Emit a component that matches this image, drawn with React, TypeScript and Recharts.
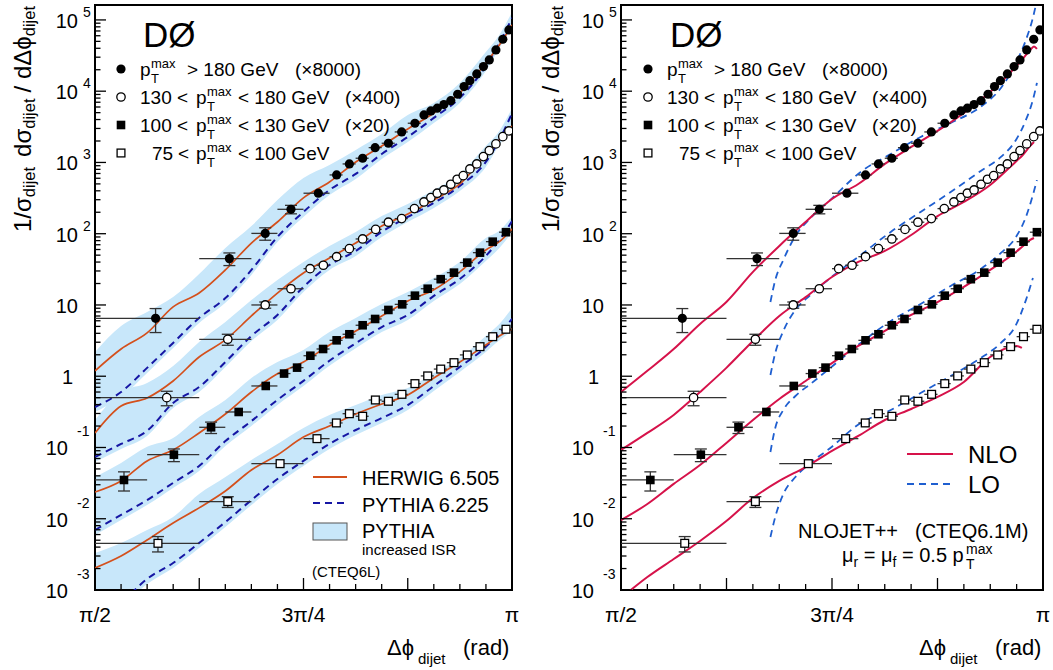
import React from "react"
import { ComposedChart, Line, Area, Scatter, ErrorBar, XAxis, YAxis, ReferenceArea } from "recharts"

const PI = Math.PI
const FONT = "'Liberation Sans', Arial, Helvetica, sans-serif"

const C = {
  herwig: "#d4501c",
  pythia: "#1616a4",
  band: "#c8e7fa",
  nlo: "#d6124a",
  lo: "#1f5fd0",
  err: "#333333",
}

// ---- measured points (same in both panels) ----
// bin edges in units of pi/128
const edges180 = [64, 80, 88, 92, 96, 100, 102, 104, 106, 108, 110, 112, 114, 115, 116, 117, 118, 119, 120, 121, 122, 123, 124, 125, 126, 127, 128]
const edges130 = [64, 80, 88, 92, 96, 98, 100, 102, 104, 106, 108, 110, 112, 114, 115, 116, 117, 118, 119, 120, 121, 122, 123, 124, 125, 126, 127, 128]
const edges100 = [64, 72, 80, 84, 88, 92, 94, 96, 98, 100, 102, 104, 106, 108, 110, 112, 114, 116, 118, 120, 122, 124, 126, 128]
const edges75 = [64, 80, 88, 96, 100, 102, 104, 106, 108, 110, 112, 114, 116, 118, 120, 122, 124, 126, 128]

const x180 = [1.799, 2.077, 2.212, 2.309, 2.412, 2.481, 2.529, 2.579, 2.626, 2.676, 2.726, 2.776, 2.81, 2.836, 2.86, 2.885, 2.911, 2.937, 2.961, 2.983, 3.009, 3.034, 3.056, 3.081, 3.107, 3.13]
const y180 = [6.5, 44.7, 101, 220, 370, 668, 953, 1146, 1614, 1860, 2680, 3550, 4640, 5280, 5770, 6480, 7370, 9060, 11600, 14060, 17460, 22130, 27480, 37930, 53580, 72400]
const err180 = [2.4, 9, 20, 30]

const x130 = [1.841, 2.071, 2.212, 2.309, 2.381, 2.431, 2.481, 2.529, 2.579, 2.628, 2.676, 2.726, 2.774, 2.81, 2.836, 2.86, 2.885, 2.911, 2.935, 2.958, 2.983, 3.009, 3.034, 3.056, 3.081, 3.107, 3.13]
const y130 = [0.5, 3.3, 10.0, 16.9, 32.3, 36.1, 47.6, 61.7, 84.4, 115, 145, 163, 225, 279, 321, 370, 411, 494, 581, 653, 811, 953, 1207, 1466, 1820, 2303, 2768]
const err130 = [0.115, 0.58, 1.0]

const x100 = [1.68, 1.868, 2.008, 2.112, 2.214, 2.283, 2.332, 2.382, 2.43, 2.481, 2.529, 2.579, 2.626, 2.676, 2.728, 2.776, 2.824, 2.873, 2.923, 2.973, 3.021, 3.069, 3.119]
const y100 = [0.035, 0.0793, 0.192, 0.315, 0.73, 1.09, 1.32, 1.94, 2.41, 3.19, 3.88, 5.19, 6.36, 8.51, 10.2, 13.5, 16.9, 23.0, 28.4, 39.3, 54.2, 77.3, 105]
const err100 = [0.0105, 0.016, 0.035]

const x75 = [1.808, 2.071, 2.268, 2.407, 2.48, 2.529, 2.579, 2.627, 2.676, 2.727, 2.776, 2.824, 2.873, 2.923, 2.973, 3.021, 3.069, 3.119]
const y75 = [0.00452, 0.0174, 0.0593, 0.133, 0.221, 0.298, 0.274, 0.464, 0.445, 0.557, 0.787, 1.01, 1.26, 1.55, 1.99, 2.6, 3.59, 4.56]
const err75 = [0.0011, 0.003]

// ---- left panel: HERWIG / PYTHIA / PYTHIA increased ISR band ----
const mcX = [1.571, 1.669, 1.767, 1.865, 1.963, 2.062, 2.16, 2.258, 2.356, 2.454, 2.553, 2.651, 2.749, 2.847, 2.945, 3.043, 3.094, 3.142]

const herwig180 = [1.19, 2.41, 4.05, 9.4, 14.7, 31, 74, 146, 318, 532, 1016, 1706, 2950, 4950, 9440, 24900, 44600, 85100]
const herwig130 = [0.16, 0.382, 0.495, 0.857, 1.86, 3.23, 7.01, 14.7, 28.1, 45.7, 74.1, 128, 189, 298, 499, 1274, 2070, 3250]
const herwig100 = [0.0237, 0.0339, 0.0648, 0.0923, 0.16, 0.295, 0.601, 1.08, 1.58, 2.75, 4.32, 7.01, 11.4, 16.3, 29.1, 59.2, 77.3, 117]
const herwig75 = [0.00204, 0.003, 0.00504, 0.00871, 0.0142, 0.0245, 0.0483, 0.0785, 0.14, 0.2, 0.295, 0.408, 0.546, 0.944, 1.58, 2.75, 3.67, 4.6]

const pythia180 = [0.37, 0.6, 1.31, 2.93, 6.57, 12.5, 31, 90, 202, 411, 690, 1315, 2280, 4220, 8040, 22600, 47500, 107000]
const pythia130 = [0.0737, 0.112, 0.171, 0.422, 0.706, 1.58, 3.67, 7.24, 17.9, 36.4, 57.3, 106, 172, 270, 468, 1016, 2070, 4950]
const pythia100 = [0.00695, 0.0113, 0.0183, 0.0318, 0.055, 0.123, 0.235, 0.465, 0.86, 1.65, 2.9, 4.9, 7.24, 13.4, 23.2, 48.7, 81.7, 151]
const pythia75 = [0.00032, 0.000657, 0.00143, 0.00239, 0.00457, 0.009, 0.0183, 0.0361, 0.0648, 0.112, 0.176, 0.259, 0.394, 0.73, 1.35, 2.58, 4.05, 6.36]

const isrHi180 = [2.19, 5.07, 7.98, 12.9, 27.2, 63, 128, 298, 606, 922, 1500, 2510, 4640, 6840, 13060, 35600, 61500, 129000]
const isrLo180 = [0.315, 0.51, 1.11, 2.49, 5.59, 10.7, 26.4, 76.6, 172, 350, 587, 1120, 1940, 3580, 6840, 19200, 40000, 78000]
const isrHi130 = [0.243, 0.601, 0.803, 1.39, 3.03, 5.77, 11.7, 22.4, 40.2, 67.3, 106, 177, 262, 411, 690, 1706, 2770, 5820]
const isrLo130 = [0.0625, 0.0953, 0.145, 0.358, 0.601, 1.35, 3.13, 6.15, 15.2, 31.0, 48.7, 90.0, 146, 230, 398, 865, 1760, 3000]
const isrHi100 = [0.0385, 0.0605, 0.102, 0.136, 0.268, 0.465, 0.944, 1.58, 2.34, 4.18, 6.57, 10.3, 15.2, 23.9, 40.2, 87.1, 110, 175]
const isrLo100 = [0.0059, 0.0096, 0.0156, 0.0271, 0.0468, 0.105, 0.2, 0.396, 0.73, 1.4, 2.47, 4.17, 6.16, 11.4, 19.7, 41.4, 63, 105]
const isrHi75 = [0.0033, 0.00457, 0.00695, 0.0106, 0.0222, 0.0385, 0.0668, 0.112, 0.188, 0.286, 0.394, 0.546, 0.684, 1.11, 1.8, 3.67, 5.41, 9.08]
const isrLo75 = [0.00027, 0.00056, 0.00121, 0.00204, 0.00388, 0.00766, 0.0156, 0.0308, 0.055, 0.0953, 0.15, 0.221, 0.336, 0.621, 1.15, 2.19, 3.2, 4.3]

// ---- right panel: NLOJET++ NLO and LO ----
const nloX = [1.571, 1.669, 1.767, 1.865, 1.963, 2.062, 2.16, 2.258, 2.356, 2.454, 2.553, 2.651, 2.749, 2.847, 2.945, 3.043, 3.063, 3.094, 3.108, 3.119]
const nlo180 = [0.601, 1.19, 2.41, 5.41, 11.0, 29.1, 67.3, 146, 307, 499, 953, 1650, 2770, 4950, 9750, 22600, 27500, 37900, 42500, 39200]
const nlo130 = [0.0923, 0.16, 0.286, 0.601, 1.31, 3.13, 7.01, 12.9, 24.7, 40.2, 57.3, 95.9, 177, 279, 483, 1050, 1233, 1706, 1940, null]
const nlo100 = [0.00959, 0.0161, 0.0308, 0.0567, 0.116, 0.243, 0.48, 0.857, 1.53, 2.66, 4.32, 7.24, 11.0, 17.9, 31.0, 56.3, 65.2, 81.7, 87.1, null]
const nlo75 = [0.000772, 0.00152, 0.00272, 0.00488, 0.00929, 0.0195, 0.0339, 0.0532, 0.0893, 0.145, 0.243, 0.347, 0.512, 0.83, 1.86, 2.66, 2.49, null, null, null]

const loX = [2.127, 2.145, 2.175, 2.22, 2.276, 2.35, 2.463, 2.575, 2.686, 2.798, 2.91, 2.985, 3.041, 3.078, 3.104, 3.119]
const lo180 = [11.0, 22.4, 42.8, 93.0, 166, 298, 736, 1315, 2280, 3580, 6070, 11100, 24900, 52400, 107000, 191000]
const lo130 = [1.04, 2.12, 4.32, 8.51, 13.8, 23.9, 50.3, 106, 202, 385, 760, 1194, 2070, 3950, 7540, 13060]
const lo100 = [0.0865, 0.188, 0.336, 0.528, 0.778, 1.31, 2.93, 5.96, 10.3, 18.5, 32.0, 53.7, 90.0, 172, 350, 568]
const lo75 = [0.00555, 0.0106, 0.0222, 0.0385, 0.0605, 0.0984, 0.221, 0.336, 0.582, 1.01, 1.8, 2.93, 5.24, 11.7, 23.9, null]

// ---- axes ----
const Y_MIN = 1e-3
const Y_MAX = 1.62e5
const yDecades = [-3, -2, -1, 0, 1, 2, 3, 4, 5]
const xLabelTicks = [PI / 2, (3 * PI) / 4, PI]
const xLabelText = ["π/2", "3π/4", "π"]

const yTicks: number[] = []
yDecades.forEach((e) => {
  for (let m = 1; m <= 9; m++) {
    const v = m * Math.pow(10, e)
    if (v <= Y_MAX) yTicks.push(v)
  }
})
const xTicks: number[] = []
for (let k = 16; k <= 32; k++) xTicks.push((k * PI) / 32)

const PLOT_LEFT = 95
const PLOT_BOTTOM = 590

function points(xs: number[], ys: number[], edges: number[], errs: number[]) {
  return xs.map((x, i) => ({
    x,
    y: ys[i],
    ex: [x - (edges[i] * PI) / 128, (edges[i + 1] * PI) / 128 - x],
    ey: errs[i] ?? 0,
  }))
}
function curve(xs: number[], ys: (number | null)[]) {
  return xs.map((x, i) => ({ x, y: ys[i] }))
}
function band(xs: number[], lo: number[], hi: number[]) {
  return xs.map((x, i) => ({ x, band: [lo[i], hi[i]] }))
}

const series = [
  { id: "180", kind: "fc", pts: points(x180, y180, edges180, err180), herwig: curve(mcX, herwig180), pythia: curve(mcX, pythia180), isr: band(mcX, isrLo180, isrHi180), nlo: curve(nloX, nlo180), lo: curve(loX, lo180) },
  { id: "130", kind: "oc", pts: points(x130, y130, edges130, err130), herwig: curve(mcX, herwig130), pythia: curve(mcX, pythia130), isr: band(mcX, isrLo130, isrHi130), nlo: curve(nloX, nlo130), lo: curve(loX, lo130) },
  { id: "100", kind: "fs", pts: points(x100, y100, edges100, err100), herwig: curve(mcX, herwig100), pythia: curve(mcX, pythia100), isr: band(mcX, isrLo100, isrHi100), nlo: curve(nloX, nlo100), lo: curve(loX, lo100) },
  { id: "75", kind: "os", pts: points(x75, y75, edges75, err75), herwig: curve(mcX, herwig75), pythia: curve(mcX, pythia75), isr: band(mcX, isrLo75, isrHi75), nlo: curve(nloX, nlo75), lo: curve(loX, lo75) },
]

function Marker({ cx, cy, kind }: { cx: number; cy: number; kind: string }) {
  if (kind === "fc") return <circle cx={cx} cy={cy} r={4.6} fill="#000" />
  if (kind === "oc") return <circle cx={cx} cy={cy} r={4.2} fill="#fff" stroke="#000" strokeWidth={1.3} />
  if (kind === "fs") return <rect x={cx - 4.3} y={cy - 4.3} width={8.6} height={8.6} fill="#000" />
  return <rect x={cx - 3.9} y={cy - 3.9} width={7.8} height={7.8} fill="#fff" stroke="#000" strokeWidth={1.3} />
}

function YTick(props: any) {
  const { y, payload } = props
  const x = PLOT_LEFT
  const lg = Math.log10(payload.value)
  const e = Math.round(lg)
  const major = Math.abs(lg - e) < 1e-6
  let label = null
  if (major) {
    if (e === 0) {
      label = <text x={x - 22} y={y + 8} textAnchor="end" fontSize={20}>1</text>
    } else if (e === 1) {
      label = <text x={x - 17} y={y + 8} textAnchor="end" fontSize={20}>10</text>
    } else if (e > 1) {
      label = (
        <g>
          <text x={x - 17} y={y + 8} textAnchor="end" fontSize={20}>10</text>
          <text x={x - 12} y={y - 3} fontSize={14}>{e}</text>
        </g>
      )
    } else {
      label = (
        <g>
          <text x={x - 27} y={y + 8} textAnchor="end" fontSize={20}>10</text>
          <text x={x - 18} y={y - 11} fontSize={14}>{e}</text>
        </g>
      )
    }
  }
  return (
    <g fontFamily={FONT} fill="#000">
      <line x1={x} x2={x + (major ? 11 : 5.5)} y1={y} y2={y} stroke="#000" strokeWidth={1.3} />
      {label}
    </g>
  )
}

function XTick(props: any) {
  const { x, payload } = props
  const k = Math.round(payload.value / (PI / 32))
  const major = k % 4 === 0
  const li = xLabelTicks.findIndex((t) => Math.abs(t - payload.value) < 1e-6)
  return (
    <g fontFamily={FONT} fill="#000">
      <line x1={x} x2={x} y1={PLOT_BOTTOM} y2={PLOT_BOTTOM - (major ? 12 : 6)} stroke="#000" strokeWidth={1.3} />
      {li >= 0 && (
        <text x={x} y={PLOT_BOTTOM + 32} textAnchor="middle" fontSize={21}>
          {xLabelText[li]}
        </text>
      )}
    </g>
  )
}

function Panel({ side }: { side: "left" | "right" }) {
  const isLeft = side === "left"
  return (
    <ComposedChart width={isLeft ? 526 : 527} height={670} margin={{ top: 5, right: isLeft ? 14 : 10, bottom: 50, left: 35 }}>
      {isLeft &&
        series.map((s) => (
          <Area key={"isr" + s.id} data={s.isr} dataKey="band" type="monotone" stroke="none" fill={C.band} fillOpacity={1} isAnimationActive={false} dot={false} activeDot={false} />
        ))}
      {isLeft &&
        series.map((s) => (
          <Line key={"py" + s.id} data={s.pythia} dataKey="y" type="monotone" stroke={C.pythia} strokeWidth={2} strokeDasharray="7 5" dot={false} activeDot={false} isAnimationActive={false} />
        ))}
      {isLeft &&
        series.map((s) => (
          <Line key={"hw" + s.id} data={s.herwig} dataKey="y" type="monotone" stroke={C.herwig} strokeWidth={1.7} dot={false} activeDot={false} isAnimationActive={false} />
        ))}
      {!isLeft &&
        series.map((s) => (
          <Line key={"lo" + s.id} data={s.lo} dataKey="y" type="monotone" stroke={C.lo} strokeWidth={1.8} strokeDasharray="7 5" dot={false} activeDot={false} isAnimationActive={false} />
        ))}
      {!isLeft &&
        series.map((s) => (
          <Line key={"nlo" + s.id} data={s.nlo} dataKey="y" type="monotone" stroke={C.nlo} strokeWidth={2} dot={false} activeDot={false} isAnimationActive={false} />
        ))}
      {series.map((s) => (
        <Scatter key={"d" + s.id} data={s.pts} dataKey="y" isAnimationActive={false} shape={(p: any) => <Marker cx={p.cx} cy={p.cy} kind={s.kind} />}>
          <ErrorBar dataKey="ex" direction="x" width={0} stroke={C.err} strokeWidth={1.3} />
          <ErrorBar dataKey="ey" direction="y" width={6} stroke={C.err} strokeWidth={1.3} />
        </Scatter>
      ))}
      <ReferenceArea x1={PI / 2} x2={PI} y1={Y_MIN} y2={Y_MAX} fill="none" fillOpacity={0} stroke="#000" strokeWidth={2} ifOverflow="visible" />
      <XAxis dataKey="x" type="number" domain={[PI / 2, PI]} allowDataOverflow ticks={xTicks} interval={0} tick={(p: any) => <XTick {...p} />} tickLine={false} axisLine={false} tickSize={0} tickMargin={0} height={30} />
      <YAxis type="number" scale="log" domain={[Y_MIN, Y_MAX]} allowDataOverflow ticks={yTicks} interval={0} tick={(p: any) => <YTick {...p} />} tickLine={false} axisLine={false} tickSize={0} tickMargin={0} width={60} />
    </ComposedChart>
  )
}

const legendRows = [
  { kind: "fc", y: 76, pre: [] as [string, number][], pX: 140, post: "> 180 GeV", postX: 187, scale: "(×8000)", scaleX: 295 },
  { kind: "oc", y: 104, pre: [["130", 140], ["<", 177]] as [string, number][], pX: 196, post: "< 180 GeV", postX: 238, scale: "(×400)", scaleX: 345 },
  { kind: "fs", y: 132, pre: [["100", 140], ["<", 177]] as [string, number][], pX: 196, post: "< 130 GeV", postX: 238, scale: "(×20)", scaleX: 345 },
  { kind: "os", y: 160, pre: [["75", 152], ["<", 178]] as [string, number][], pX: 196, post: "< 100 GeV", postX: 238, scale: "", scaleX: 0 },
]

function TopLegend({ dx }: { dx: number }) {
  return (
    <g>
      <text x={143 + dx} y={47} fontSize={35}>DØ</text>
      {legendRows.map((r, i) => (
        <g key={i} fontSize={19}>
          <Marker cx={121 + dx} cy={r.y - 7} kind={r.kind} />
          {r.pre.map(([t, px], j) => (
            <text key={j} x={px + dx} y={r.y}>{t}</text>
          ))}
          <text x={r.pX + dx} y={r.y}>p</text>
          <text x={r.pX + 11 + dx} y={r.y - 8} fontSize={13}>max</text>
          <text x={r.pX + 11 + dx} y={r.y + 7} fontSize={13}>T</text>
          <text x={r.postX + dx} y={r.y}>{r.post}</text>
          {r.scale && <text x={r.scaleX + dx} y={r.y}>{r.scale}</text>}
        </g>
      ))}
    </g>
  )
}

function YTitle({ x }: { x: number }) {
  return (
    <text transform={`translate(${x},6) rotate(-90)`} textAnchor="end" fontSize={24}>
      1/σ
      <tspan fontSize={16.5} dy={4}>dijet</tspan>
      <tspan dy={-4} dx={10}>dσ</tspan>
      <tspan fontSize={16.5} dy={4}>dijet</tspan>
      <tspan dy={-4} dx={6}>/ dΔϕ</tspan>
      <tspan fontSize={16.5} dy={4}>dijet</tspan>
    </text>
  )
}

function XTitle({ dx }: { dx: number }) {
  return (
    <g>
      <text x={387 + dx} y={655} fontSize={22}>Δϕ</text>
      <text x={418 + dx} y={664} fontSize={15}>dijet</text>
      <text x={463 + dx} y={655} fontSize={22}>(rad)</text>
    </g>
  )
}

function Overlay() {
  return (
    <svg width={1053} height={670} style={{ position: "absolute", left: 0, top: 0, pointerEvents: "none" }} fontFamily={FONT} fill="#000">
      <TopLegend dx={0} />
      <TopLegend dx={527} />
      <YTitle x={31} />
      <YTitle x={559} />
      <XTitle dx={0} />
      <XTitle dx={532} />

      {/* left panel model legend */}
      <line x1={313} x2={347} y1={477} y2={477} stroke={C.herwig} strokeWidth={2} />
      <text x={362} y={485} fontSize={20}>HERWIG 6.505</text>
      <line x1={313} x2={347} y1={503} y2={503} stroke={C.pythia} strokeWidth={2} strokeDasharray="7 5" />
      <text x={362} y={512} fontSize={20}>PYTHIA 6.225</text>
      <rect x={313} y={523} width={34} height={17} fill={C.band} stroke="#555" strokeWidth={1} />
      <text x={362} y={538} fontSize={20}>PYTHIA</text>
      <text x={362} y={555} fontSize={15}>increased ISR</text>
      <text x={312} y={577} fontSize={15}>(CTEQ6L)</text>

      {/* right panel legend */}
      <line x1={907} x2={953} y1={454} y2={454} stroke={C.nlo} strokeWidth={2} />
      <text x={968} y={463} fontSize={24}>NLO</text>
      <line x1={907} x2={953} y1={484} y2={484} stroke={C.lo} strokeWidth={2} strokeDasharray="7 5" />
      <text x={968} y={493} fontSize={24}>LO</text>
      <text x={798} y={538} fontSize={20}>NLOJET++</text>
      <text x={915} y={538} fontSize={20}>(CTEQ6.1M)</text>
      <text x={842} y={562} fontSize={20}>
        μ<tspan fontSize={14} dy={5}>r</tspan>
        <tspan dy={-5}> = μ</tspan>
        <tspan fontSize={14} dy={5}>f</tspan>
        <tspan dy={-5}> = 0.5 p</tspan>
      </text>
      <text x={966} y={554} fontSize={14}>max</text>
      <text x={966} y={569} fontSize={14}>T</text>
    </svg>
  )
}

export default function App() {
  return (
    <div style={{ position: "absolute", left: 0, top: 0, width: 1053, height: 670, background: "#fff", fontFamily: FONT }}>
      <div style={{ position: "absolute", left: 0, top: 0 }}>
        <Panel side="left" />
      </div>
      <div style={{ position: "absolute", left: 526, top: 0 }}>
        <Panel side="right" />
      </div>
      <Overlay />
    </div>
  )
}
